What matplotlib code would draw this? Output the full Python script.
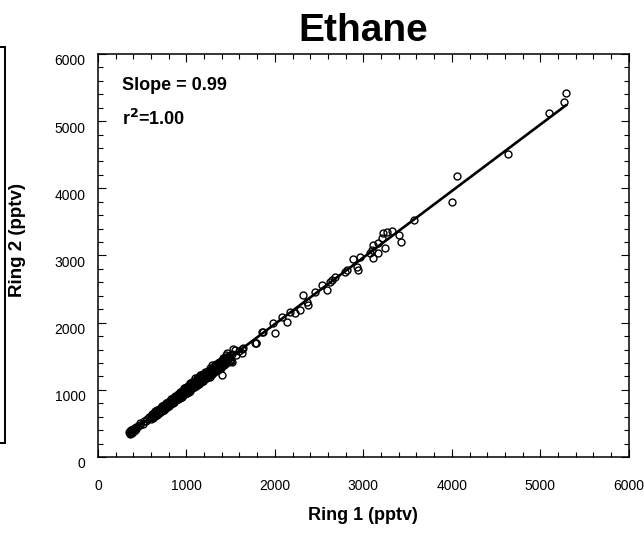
import numpy as np
import matplotlib
matplotlib.use("Agg")
import matplotlib.pyplot as plt
from matplotlib.patches import Rectangle
from matplotlib.transforms import ScaledTranslation

plt.rcParams['font.family'] = ['Liberation Sans', 'DejaVu Sans']

### ethane, ring 1 vs ring 2 (pptv)
ring1 = [360, 365, 370, 375, 380, 385, 390, 395, 400, 405, 415, 420,
         362, 368, 378, 388, 398, 408, 430, 435,
         355, 372, 383, 392, 402, 412, 425,
         450, 475, 510, 545, 480, 520, 560, 580,
         600, 615, 630, 645, 660, 672, 685, 698, 710, 722, 735, 748, 760, 772,
         785, 798, 810, 822, 835, 848, 860, 872, 885, 898, 910, 922, 935, 948,
         960, 972, 985, 998, 1010, 1022, 1035, 1048, 1060, 1072, 1085, 1098,
         1110, 1122, 1135, 1148, 1160, 1172, 1185, 1198, 1210, 1222, 1235,
         1248, 1260, 1272, 1285, 1298, 1310, 1322, 1335, 1348, 1360, 1372,
         1385, 1398, 1410, 1422, 1435, 1448, 1460, 1475, 1490,
         640, 700, 760, 820, 880, 940, 1000, 1060, 1120, 1180, 1240, 1300,
         1360, 1420, 1050, 980, 1190, 1280, 1330,
         620, 655, 690, 725, 750, 780, 805, 830, 855, 875, 900, 925, 950, 975,
         995, 1015, 1040, 1065, 1090, 1115, 1140, 1165, 1190, 1215, 1245, 1265,
         1290, 1315, 1340, 1365, 1390, 1415, 1440, 1465, 1500, 1520, 1560, 1600,
         610, 630, 650, 670, 690, 710, 730, 750, 770, 790, 810, 830, 850, 870,
         890, 910, 930, 950, 970, 990, 1010, 1030, 1050, 1070, 1090, 1110, 1130,
         1150, 1170, 1190, 1210, 1230, 1250, 1270, 1290, 1310, 1330, 1350, 1370,
         1390, 1410, 1430, 1450, 1470,
         605, 625, 645, 665, 685, 705, 725, 745, 765, 785, 805, 825, 845, 865,
         885, 905, 925, 945, 965, 985, 1005, 1025, 1045, 1065, 1085, 1105, 1125,
         1145, 1165, 1185, 1205, 1225, 1245, 1265, 1285, 1305, 1325, 1345, 1365,
         1385, 1405, 1425, 1445, 1465,
         1040, 1096, 1153, 1266, 1284, 1359, 1397, 1416, 1454, 1511, 1492,
         1548, 1624, 1642, 1785, 1849, 1386, 1322, 1446, 1492, 1529, 1624, 1782,
         1774, 1868, 2000, 1981, 2076, 2132, 2170, 2226, 2282, 2377, 2358, 2320,
         2452, 2584, 2527, 2621, 2640, 2678, 2791, 2810, 2923, 2941, 2878, 2960,
         3111, 3073, 3164, 3093, 3243, 3107, 3164, 3205, 3220, 3262, 3318, 3401,
         3420, 3571, 4000, 4056, 4633, 5096, 5266, 5288]
ring2 = [355, 375, 360, 385, 370, 395, 378, 400, 385, 410, 400, 425,
         390, 345, 400, 360, 420, 380, 440, 415,
         370, 395, 380, 392, 400, 420, 430,
         455, 500, 490, 535, 470, 530, 560, 600,
         590, 630, 610, 650, 640, 690, 665, 710, 690, 740, 715, 760, 740, 790,
         765, 815, 790, 840, 810, 865, 835, 890, 860, 915, 880, 945, 915, 965,
         930, 1000, 960, 1020, 985, 1050, 1005, 1075, 1030, 1100, 1060, 1120,
         1080, 1150, 1105, 1175, 1130, 1200, 1150, 1225, 1180, 1250, 1200,
         1275, 1230, 1300, 1255, 1320, 1280, 1345, 1300, 1370, 1325, 1395,
         1350, 1410, 1380, 1430, 1400, 1445, 1420, 1470, 1450,
         625, 690, 770, 800, 880, 930, 1000, 1060, 1110, 1175, 1230, 1290,
         1350, 1405, 1090, 1030, 1240, 1240, 1380,
         600, 675, 660, 760, 715, 805, 770, 870, 820, 915, 860, 970, 905, 1030,
         950, 1060, 990, 1110, 1040, 1170, 1085, 1220, 1135, 1270, 1185, 1320,
         1235, 1360, 1285, 1410, 1330, 1455, 1380, 1490, 1430, 1540, 1520, 1580,
         640, 655, 680, 700, 720, 735, 760, 780, 800, 815, 840, 860, 875, 900,
         915, 935, 960, 985, 1000, 1020, 1040, 1065, 1080, 1095, 1120, 1140, 1160,
         1175, 1200, 1220, 1235, 1265, 1280, 1300, 1315, 1345, 1360, 1375, 1400,
         1420, 1440, 1460, 1475, 1500,
         565, 585, 605, 625, 650, 665, 690, 705, 725, 750, 760, 785, 800, 820,
         845, 860, 880, 900, 920, 940, 960, 975, 1000, 1020, 1035, 1060, 1075,
         1095, 1120, 1135, 1155, 1180, 1195, 1215, 1240, 1255, 1275, 1295, 1320,
         1335, 1355, 1375, 1395, 1420,
         1097, 1171, 1220, 1195, 1369, 1295, 1220, 1469, 1543, 1418, 1493,
         1592, 1543, 1618, 1701, 1865, 1344, 1369, 1518, 1429, 1603, 1603, 1692,
         1701, 1865, 1850, 1990, 2088, 2013, 2163, 2138, 2188, 2262, 2311, 2411,
         2460, 2485, 2560, 2609, 2634, 2683, 2757, 2783, 2832, 2783, 2942, 2972,
         2957, 3036, 3036, 3080, 3110, 3155, 3185, 3254, 3333, 3344, 3363, 3304,
         3195, 3527, 3795, 4182, 4509, 5119, 5283, 5417]

slope = 0.99
intercept = 0.0
r2 = 1.00

fig = plt.figure(figsize=(6.44, 5.34), dpi=100)
ax = fig.add_axes([0.152, 0.1442, 0.8245, 0.7547])

x = np.asarray(ring1, dtype=float)
y = np.asarray(ring2, dtype=float)
# white fills first, then all the outlines on top so overlaps stay dark
ax.plot(x, y, 'o', mfc='white', mec='none', ms=5, zorder=2)
ax.plot(x, y, 'o', mfc='none', mec='black', ms=5, mew=1.0, zorder=2.5)
xl = np.array([x.min(), x.max()])
ax.plot(xl, slope * xl + intercept, color='black', lw=1.9, zorder=3)

ax.set_xlim(0, 6000)
ax.set_ylim(0, 6000)
ax.set_xticks(np.arange(0, 6001, 1000))
ax.set_yticks(np.arange(0, 6001, 1000))
ax.set_xticks(np.arange(0, 6001, 200), minor=True)
ax.set_yticks(np.arange(0, 6001, 200), minor=True)
ax.tick_params(which='both', direction='in', top=True, right=True, width=0.8, labelsize=10)
ax.tick_params(which='major', length=6)
ax.tick_params(which='minor', length=3.6)
ax.tick_params(axis='x', pad=16)
ax.tick_params(axis='y', pad=9)
for sp in ax.spines.values():
    sp.set_linewidth(1.1)

shift = ScaledTranslation(0, -6 / 100, fig.dpi_scale_trans)
for lab in ax.get_yticklabels():
    lab.set_transform(lab.get_transform() + shift)

ax.set_xlabel('Ring 1 (pptv)', fontsize=13, fontweight='bold', labelpad=10)
fig.text(18 / 644, 1 - 240 / 534, 'Ring 2 (pptv)', rotation=90, fontsize=13.5,
         fontweight='bold', ha='center', va='center')
ax.set_title('Ethane', fontsize=28, fontweight='bold', pad=9)

ax.text(0.045, 0.911, f'Slope = {slope:.2f}', transform=ax.transAxes,
        fontsize=13, fontweight='bold', va='baseline')
ax.text(0.045, 0.824, r'r$^\mathbf{2}$=' + f'{r2:.2f}', transform=ax.transAxes,
        fontsize=13, fontweight='bold', va='baseline')

# edge of the neighbouring panel box, cut off at the left
fig.patches.append(Rectangle((-0.05, 0.170), 0.0585, 0.742, transform=fig.transFigure,
                             fill=False, ec='black', lw=1.4, clip_on=False))

fig.savefig('out.png', dpi=100)
